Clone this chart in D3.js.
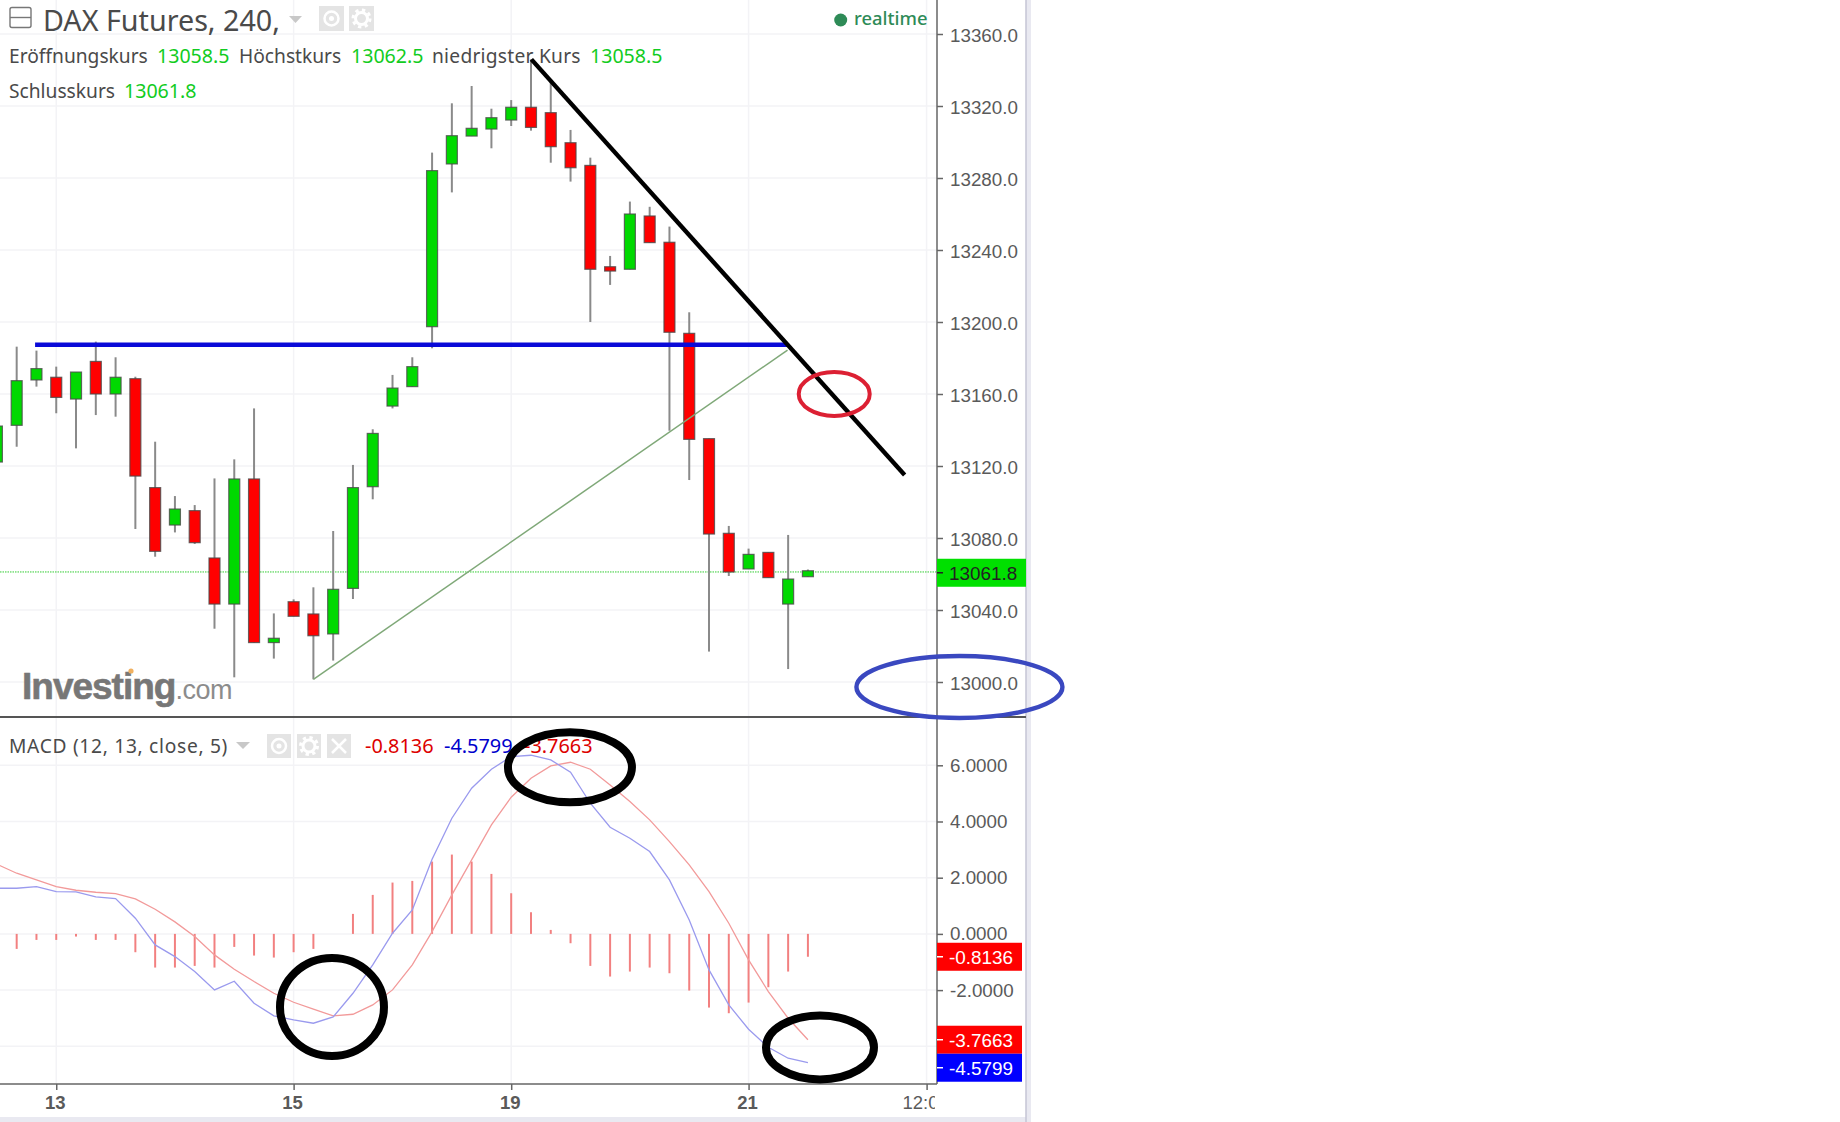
<!DOCTYPE html>
<html>
<head>
<meta charset="utf-8">
<script src="https://cdnjs.cloudflare.com/ajax/libs/d3/7.8.5/d3.min.js"></script>
<style>
    html, body { margin: 0; padding: 0; background: #fff; }
    svg { display: block; }
    .head { font-family: "Noto Sans", sans-serif; fill: #4a4a4a; }
    .axis text { font-family: "Liberation Sans", sans-serif; font-size: 18.8px; fill: #5a5a5a; }
    .axis path, .axis line { stroke: #666; stroke-width: 1.5px; }
    .grid { stroke: #f3f3f6; stroke-width: 1.5px; }
</style>
</head>
<body>
<svg id="chart" width="1840" height="1122"></svg>
<script>
// candles, 240 minute bars
const opens  = [13122.2,13142.6,13167.8,13169.3,13157.2,13178.1,13160,13168.5,13108,13087.2,13095.2,13068.9,13043.3,13112.8,13021.9,13044.6,13037.8,13026.7,13052,13108.5,13153.3,13164.1,13197.4,13287.8,13303.3,13307.2,13312.2,13319.3,13316.3,13299.6,13287,13230.7,13229.3,13258.9,13244.3,13193.7,13135.2,13082.6,13062.8,13072,13043.3,13058.5];
const highs  = [13142.2,13186.3,13184.1,13175.2,13172.2,13189.1,13180.4,13169.6,13133.5,13103.3,13098.3,13113.1,13123.7,13152,13038.1,13045.9,13052.6,13083.9,13120.6,13140.4,13170.6,13180.4,13294.1,13321.5,13331.1,13318.5,13323.3,13345.9,13334.4,13306.7,13291.3,13236.7,13266.9,13264,13253,13205.4,13135.2,13086.7,13074.1,13072,13081.7,13062.5];
const lows   = [13122.2,13130.7,13164.1,13149.3,13129.8,13148.3,13147.4,13085,13069.6,13083.1,13076.7,13029.6,13002.6,13021.9,13013,13036.5,13001.5,13011.9,13046.1,13101.5,13152,13164.1,13185.4,13272,13303.3,13296.5,13308.9,13306.3,13288.5,13278,13200,13220.6,13229.3,13244.1,13139.6,13112.2,13016.9,13058.9,13062.8,13058,13007.2,13058.5];
const closes = [13142.2,13167.4,13174.1,13158.1,13172.2,13160,13169.3,13114.4,13072.6,13096.1,13077.4,13043.3,13112.8,13021.9,13024.3,13036.5,13025.7,13051.5,13108,13138.1,13163.3,13175.2,13284.1,13303.5,13307.6,13313.5,13319.3,13308.1,13297.4,13285.7,13229.3,13228.3,13260,13244.1,13194.3,13134.8,13082.2,13061.1,13070.9,13058,13057.2,13061.8];

// MACD pane
const macdLine = [1.625,1.625,1.684,1.507,1.495,1.317,1.257,0.558,-0.391,-0.807,-1.34,-1.993,-1.684,-2.467,-2.918,-3.06,-3.179,-2.954,-2.112,-1.103,0.024,0.854,2.657,4.116,5.184,5.86,6.311,6.358,6.192,5.753,4.65,3.796,3.405,2.93,1.922,0.498,-1.281,-2.527,-3.393,-4.033,-4.425,-4.5799];
const signalLine = [2.479,2.159,1.922,1.684,1.554,1.483,1.435,1.246,0.878,0.427,-0.095,-0.747,-1.257,-1.696,-2.112,-2.432,-2.681,-2.918,-2.859,-2.527,-1.993,-1.103,0.083,1.388,2.633,3.879,4.864,5.54,5.979,6.109,5.86,5.302,4.709,4.057,3.286,2.456,1.507,0.38,-0.925,-2.052,-3.001,-3.7663];
const histogram = [0,-0.534,-0.214,-0.214,-0.095,-0.214,-0.214,-0.652,-1.198,-1.198,-1.139,-1.198,-0.463,-0.771,-0.842,-0.652,-0.534,0,0.712,1.388,1.827,1.886,2.574,2.823,2.574,2.135,1.447,0.771,0.142,-0.332,-1.139,-1.518,-1.34,-1.198,-1.4,-2.017,-2.622,-2.823,-2.444,-1.898,-1.34,-0.8136];

// axes
const priceTicks = [13000,13040,13080,13120,13160,13200,13240,13280,13320,13360];
const macdTicks = [-2,0,2,4,6];
const timeTicks = [3,15,26,38,47];
const timeLabels = ["13","15","19","21","12:00"];

// hand drawn stuff on top of the chart, [bar index, price]
const blueLevel = [[1.93,13187.4],[39.97,13187.4]];
const greenTrend = [[16,13001.5],[39.97,13184.4]];
const blackTrend = [[27.02,13345.9],[45.89,13115]];

const margin = {right: 937, top: 34, split: 717, bottom: 1084};

// plain hyphen for negatives, the default is a long minus
const fmt = d3.formatLocale({decimal: ".", thousands: "", grouping: [3], currency: ["", ""], minus: "-"}).format;

const x = d3.scaleLinear().domain([0, 47]).range([-3.1, 926.6]);
const y = d3.scaleLinear().domain([13000, 13360]).range([682, 34]);
const yMacd = d3.scaleLinear().domain([-4, 6]).range([1046.3, 765.3]);

const svg = d3.select("#chart");
const defs = svg.append("defs");
defs.append("clipPath").attr("id", "plot").append("rect").attr("width", margin.right).attr("height", margin.bottom);

// backgrounds and frame
svg.append("rect").attr("x", 0).attr("y", 1117).attr("width", 1031).attr("height", 5).attr("fill", "#e9e9f1");
svg.append("rect").attr("x", 1026).attr("y", 0).attr("width", 5).attr("height", 1122).attr("fill", "#e9e9f1");
svg.append("line").attr("x1", 1026).attr("x2", 1026).attr("y1", 0).attr("y2", 1122).attr("stroke", "#c4c4d4").attr("stroke-width", 1.5);

// grid
const grid = svg.append("g");
grid.selectAll(".gp").data(priceTicks).enter().append("line").attr("class", "grid")
    .attr("x1", 0).attr("x2", margin.right).attr("y1", d => y(d)).attr("y2", d => y(d));
grid.selectAll(".gm").data(macdTicks.concat([-4])).enter().append("line").attr("class", "grid")
    .attr("x1", 0).attr("x2", margin.right).attr("y1", d => yMacd(d)).attr("y2", d => yMacd(d));
grid.selectAll(".gt").data(timeTicks).enter().append("line").attr("class", "grid")
    .attr("x1", d => x(d)).attr("x2", d => x(d)).attr("y1", 0).attr("y2", margin.bottom);

// last price line, sits a pixel under its value in the original
svg.append("line")
    .attr("x1", 0).attr("x2", margin.right)
    .attr("y1", y(closes[closes.length - 1]) + 1.2).attr("y2", y(closes[closes.length - 1]) + 1.2)
    .attr("stroke", "#33cc33").attr("stroke-width", 1).attr("stroke-dasharray", "1.5 1");

// candles
const bars = d3.range(opens.length);
const candles = svg.append("g").attr("clip-path", "url(#plot)");
candles.selectAll(".wick").data(bars).enter().append("line")
    .attr("x1", i => x(i)).attr("x2", i => x(i))
    .attr("y1", i => y(highs[i])).attr("y2", i => y(lows[i]))
    .attr("stroke", "#8a8a8a").attr("stroke-width", 2);
candles.selectAll(".body").data(bars).enter().append("rect")
    .attr("x", i => x(i) - 5.5).attr("width", 11)
    .attr("y", i => y(Math.max(opens[i], closes[i])))
    .attr("height", i => Math.max(2, Math.abs(y(opens[i]) - y(closes[i]))))
    .attr("fill", i => closes[i] >= opens[i] ? "#00d900" : "#ff0000")
    .attr("stroke", "#4a4a4a").attr("stroke-opacity", 0.8).attr("stroke-width", 1.2);

// MACD histogram and lines
const macd = svg.append("g").attr("clip-path", "url(#plot)");
macd.selectAll(".hist").data(bars).enter().append("line")
    .attr("x1", i => x(i)).attr("x2", i => x(i))
    .attr("y1", yMacd(0)).attr("y2", i => yMacd(histogram[i]))
    .attr("stroke", "#f28080").attr("stroke-width", 2);
const line = d3.line().x((d, i) => x(i)).y(d => yMacd(d));
macd.append("path").attr("d", line(signalLine)).attr("fill", "none").attr("stroke", "#f29a9a").attr("stroke-width", 1.3);
macd.append("path").attr("d", line(macdLine)).attr("fill", "none").attr("stroke", "#9a9aee").attr("stroke-width", 1.3);

// axes
const priceAxis = svg.append("g").attr("class", "axis").attr("transform", "translate(" + margin.right + ",0)")
    .call(d3.axisRight(y).tickValues(priceTicks).tickFormat(fmt(".1f")).tickSize(6).tickPadding(7));
priceAxis.selectAll("text").attr("dy", "0.4em");
const macdAxis = svg.append("g").attr("class", "axis").attr("transform", "translate(" + margin.right + ",0)")
    .call(d3.axisRight(yMacd).tickValues(macdTicks).tickFormat(fmt(".4f")).tickSize(6).tickPadding(7));
priceAxis.select(".domain").remove();
macdAxis.select(".domain").remove();
svg.append("line").attr("x1", margin.right).attr("x2", margin.right).attr("y1", 0).attr("y2", margin.bottom).attr("stroke", "#666").attr("stroke-width", 1.5);

const timeAxis = svg.append("g").attr("class", "axis")
    .attr("transform", "translate(0," + margin.bottom + ")")
    .call(d3.axisBottom(x).tickValues(timeTicks).tickFormat((d, i) => timeLabels[i]).tickSize(6).tickPadding(6));
timeAxis.select(".domain").remove();
timeAxis.selectAll("text").style("font-weight", "bold").style("font-size", "18.5px").attr("dx", -1.5);
timeAxis.selectAll(".tick").filter(d => d === 47).select("text").style("font-weight", "normal");
// the last time label runs under the price column
svg.append("rect").attr("x", 935).attr("y", 1091).attr("width", 90).attr("height", 26).attr("fill", "#fff");
svg.append("line").attr("x1", 0).attr("x2", margin.right).attr("y1", margin.bottom).attr("y2", margin.bottom).attr("stroke", "#666").attr("stroke-width", 1.5);
svg.append("line").attr("x1", 0).attr("x2", 1026).attr("y1", margin.split).attr("y2", margin.split).attr("stroke", "#555").attr("stroke-width", 2);

// value tags on the right
function tag(value, scale, fill, width, textFill, label, minTop) {
    let top = Math.max(scale(value) - 14, minTop || 0);
    svg.append("rect").attr("x", margin.right).attr("y", top).attr("width", width).attr("height", 28).attr("fill", fill);
    svg.append("line").attr("x1", margin.right).attr("x2", margin.right + 6).attr("y1", top + 14).attr("y2", top + 14).attr("stroke", textFill).attr("stroke-width", 1.5);
    svg.append("text").attr("x", 949).attr("y", top + 21).text(label)
        .attr("font-family", "Liberation Sans, sans-serif").attr("font-size", 18.9).attr("fill", textFill);
    return top + 28;
}
tag(closes[closes.length - 1], v => y(v) + 2, "#00e000", 89, "#222", fmt(".1f")(closes[closes.length - 1]));
tag(histogram[histogram.length - 1], yMacd, "#ff0000", 85, "#fff", fmt(".4f")(histogram[histogram.length - 1]));
const nextTop = tag(signalLine[signalLine.length - 1], yMacd, "#ff0000", 85, "#fff", fmt(".4f")(signalLine[signalLine.length - 1]));
tag(macdLine[macdLine.length - 1], yMacd, "#0000ff", 85, "#fff", fmt(".4f")(macdLine[macdLine.length - 1]), nextTop);

// header texts
function label(px, py, size, fill, str, spacing, weight) {
    return svg.append("text").attr("class", "head").attr("x", px).attr("y", py)
        .attr("font-size", size).style("fill", fill).style("font-weight", weight || 400)
        .attr("letter-spacing", spacing || 0).text(str);
}
const green = "#11cc22";
label(43, 30.8, 28.7, "#4a4a4a", "DAX Futures, 240,");
label(9, 62.5, 19.2, "#4a4a4a", "Eröffnungskurs");
label(157, 62.5, 19.6, green, "13058.5");
label(239, 62.5, 19.2, "#4a4a4a", "Höchstkurs");
label(351, 62.5, 19.6, green, "13062.5");
label(432, 62.5, 19.2, "#4a4a4a", "niedrigster Kurs", 0.25);
label(590, 62.5, 19.6, green, "13058.5");
label(9, 97.5, 19.2, "#4a4a4a", "Schlusskurs");
label(124, 97.5, 19.6, green, "13061.8");
label(854, 25, 18.4, "#2e8b57", "realtime", 0, 500);
svg.append("circle").attr("cx", 840.7).attr("cy", 20).attr("r", 6.5).attr("fill", "#2e8b57");

label(9, 753, 19.2, "#4a4a4a", "MACD (12, 13, close, 5)", 0.7);
label(365, 753, 19.9, "#dd0000", fmt(".4f")(histogram[histogram.length - 1]));
label(444, 753, 19.9, "#0000cc", fmt(".4f")(macdLine[macdLine.length - 1]));
label(524, 753, 19.9, "#dd0000", fmt(".4f")(signalLine[signalLine.length - 1]));

// collapse box, arrows, icon buttons
svg.append("rect").attr("x", 10).attr("y", 7.5).attr("width", 21).attr("height", 20).attr("rx", 2).attr("fill", "none").attr("stroke", "#777").attr("stroke-width", 1.4);
svg.append("line").attr("x1", 10).attr("x2", 31).attr("y1", 17.5).attr("y2", 17.5).attr("stroke", "#777").attr("stroke-width", 1.4);
svg.append("path").attr("d", "M289,16h13l-6.5,7z").attr("fill", "#c8c8c8");
svg.append("path").attr("d", "M236,742h14l-7,7z").attr("fill", "#c8c8c8");

function iconButton(px, py, size, kind) {
    let g = svg.append("g").attr("transform", "translate(" + px + "," + py + ")");
    g.append("rect").attr("width", size).attr("height", size).attr("fill", "#e4e4e4");
    let c = size / 2;
    if(kind === "eye") {
        g.append("circle").attr("cx", c).attr("cy", c).attr("r", 7).attr("fill", "none").attr("stroke", "#fff").attr("stroke-width", 2.5);
        g.append("circle").attr("cx", c).attr("cy", c).attr("r", 2.5).attr("fill", "#fff");
    } else if(kind === "gear") {
        g.append("circle").attr("cx", c).attr("cy", c).attr("r", 6).attr("fill", "none").attr("stroke", "#fff").attr("stroke-width", 3);
        g.append("circle").attr("cx", c).attr("cy", c).attr("r", 8.5).attr("fill", "none").attr("stroke", "#fff").attr("stroke-width", 3).attr("stroke-dasharray", "3.3 3.4");
    } else {
        g.append("path").attr("d", "M5,5L" + (size - 5) + "," + (size - 5) + "M" + (size - 5) + ",5L5," + (size - 5)).attr("stroke", "#fff").attr("stroke-width", 2.5);
    }
}
iconButton(319, 6, 25, "eye");
iconButton(349, 6, 25, "gear");
iconButton(267, 734, 24, "eye");
iconButton(297, 734, 24, "gear");
iconButton(327, 734, 24, "close");

// watermark
const mark = svg.append("text").attr("x", 22).attr("y", 699).attr("font-family", "Liberation Sans, sans-serif");
mark.append("tspan").text("Investing").attr("font-size", 37).attr("font-weight", "bold").attr("fill", "#777").attr("stroke", "#777").attr("stroke-width", 0.6).attr("letter-spacing", -1);
mark.append("tspan").text(".com").attr("font-size", 27).attr("fill", "#8c8c8c").attr("letter-spacing", -0.5);
svg.append("circle").attr("cx", 131).attr("cy", 671).attr("r", 2.6).attr("fill", "#f0b060");

// drawn trend lines
const trend = d3.line().x(d => x(d[0])).y(d => y(d[1]));
svg.append("path").attr("d", trend(greenTrend)).attr("fill", "none").attr("stroke", "#7fa878").attr("stroke-width", 1.5);
svg.append("path").attr("d", trend(blueLevel)).attr("fill", "none").attr("stroke", "#0a0ad8").attr("stroke-width", 4.4);
svg.append("path").attr("d", trend(blackTrend)).attr("fill", "none").attr("stroke", "#000").attr("stroke-width", 4.4);

// drawn ellipses
function ring(cx, cy, rx, ry, color, width) {
    svg.append("ellipse").attr("cx", cx).attr("cy", cy).attr("rx", rx).attr("ry", ry)
        .attr("fill", "none").attr("stroke", color).attr("stroke-width", width);
}
ring(x(42.33), y(13160), 35.5, 22, "#dc2033", 4);
ring(x(48.66), y(12997.2), 103, 31, "#3a48c0", 4.4);
ring(x(16.94), yMacd(-2.6), 52, 49, "#000", 8);
ring(x(28.97), yMacd(5.93), 62, 35, "#000", 8);
ring(x(41.61), yMacd(-4.04), 54, 32, "#000", 8);
</script>
</body>
</html>
